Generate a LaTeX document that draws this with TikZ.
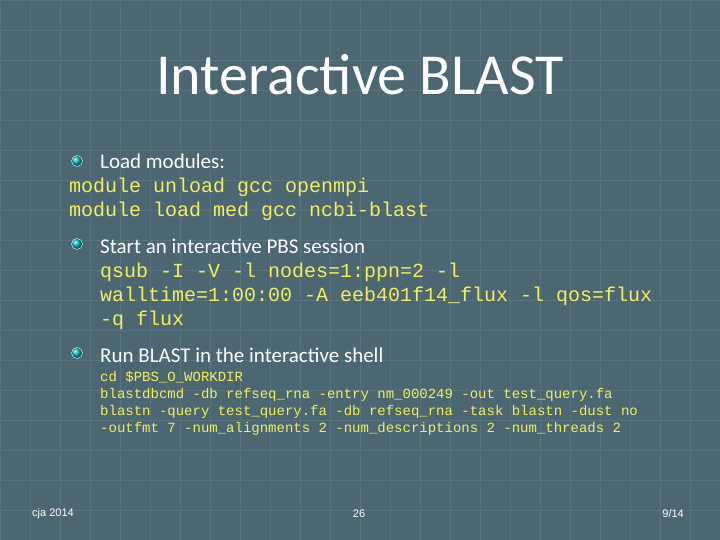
\documentclass[tikz,border=0pt]{standalone}
\usepackage{fontspec}
\setmainfont{Carlito}
\newfontfamily\codefont{Liberation Mono}
\newfontfamily\footfont{Liberation Sans}
\definecolor{bg}{HTML}{4C6672}
\definecolor{grid}{HTML}{587280}
\definecolor{code}{HTML}{F0F060}
\tikzset{
 txt/.style={anchor=base west,inner sep=0pt,text=white,font=\fontsize{21}{24}\selectfont},
 bigcode/.style={anchor=base west,inner sep=0pt,text=code,font=\codefont\fontsize{20}{24}\selectfont},
 smallcode/.style={anchor=base west,inner sep=0pt,text=code,font=\codefont\fontsize{14}{17}\selectfont},
 foot/.style={inner sep=0pt,text=white,font=\footfont\fontsize{11}{13}\selectfont},
 bullet/.style={circle,minimum size=11pt,inner sep=0pt,ball color=cyan!40!teal,draw=white!70}
}
\begin{document}
\begin{tikzpicture}[x=1pt,y=-1pt]
\fill[bg] (0,0) rectangle (720,540);
\useasboundingbox (0,0) rectangle (720,540);
\foreach \i in {0,30,...,720} \draw[grid,line width=0.6pt] (\i,0) -- (\i,540);
\foreach \j in {0,30,...,540} \draw[grid,line width=0.6pt] (0,\j) -- (720,\j);
\node[inner sep=0pt,text=white,font=\fontsize{58}{62}\selectfont] (title) at (360,75) {Interactive BLAST};
\node[bullet] (b1) at (77,161) {};
\node[txt] (l1) at (100,169) {Load modules:};
\node[bigcode] (c1) at (69,193) {module unload gcc openmpi};
\node[bigcode] (c2) at (69,217) {module load med gcc ncbi-blast};
\node[bullet] (b2) at (77,244) {};
\node[txt] (l2) at (100,254) {Start an interactive PBS session};
\node[bigcode] (c3) at (100,277) {qsub -I -V -l nodes=1:ppn=2 -l};
\node[bigcode] (c4) at (100,301) {walltime=1:00:00 -A eeb401f14\_flux -l qos=flux};
\node[bigcode] (c5) at (100,325) {-q flux};
\node[bullet] (b3) at (77,353) {};
\node[txt] (l3) at (100,362) {Run BLAST in the interactive shell};
\node[smallcode] (s1) at (100,381) {cd \$PBS\_O\_WORKDIR};
\node[smallcode] (s2) at (100,398) {blastdbcmd -db refseq\_rna -entry nm\_000249 -out test\_query.fa};
\node[smallcode] (s3) at (100,415) {blastn -query test\_query.fa -db refseq\_rna -task blastn -dust no};
\node[smallcode] (s4) at (100,432) {-outfmt 7 -num\_alignments 2 -num\_descriptions 2 -num\_threads 2};
\node[foot,anchor=west] (f1) at (32,514) {cja 2014};
\node[foot] (f2) at (359,514) {26};
\node[foot,anchor=east] (f3) at (684,514) {9/14};
\end{tikzpicture}
\end{document}
